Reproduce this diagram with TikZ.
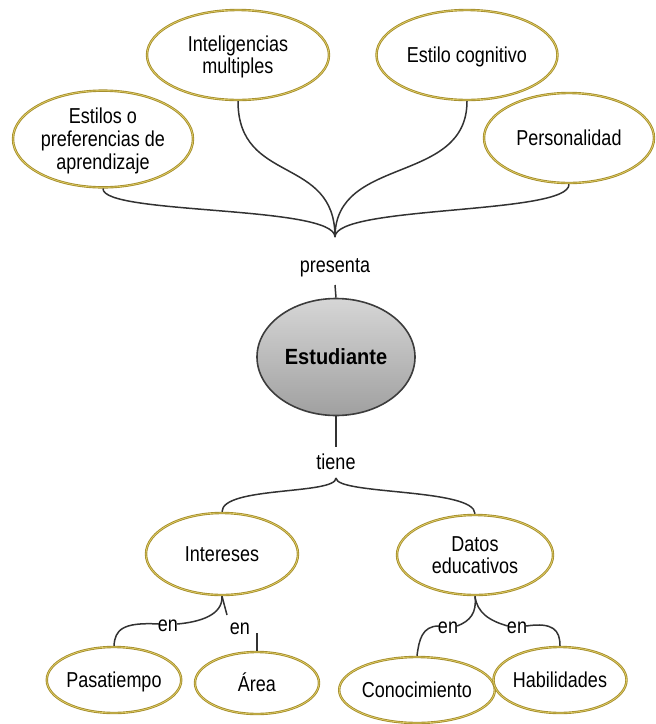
\documentclass[tikz,border=0pt]{standalone}
\usepackage{fontspec}
\setmainfont{Liberation Sans}
\usetikzlibrary{shapes.geometric}
\definecolor{ringgold}{RGB}{165,142,45}
\definecolor{ringlight}{RGB}{232,214,110}
\definecolor{linkgray}{RGB}{50,50,50}
\definecolor{estedge}{RGB}{60,60,60}
\definecolor{esttop}{RGB}{214,214,214}
\definecolor{estbot}{RGB}{160,160,160}
\newcommand{\tall}[1]{\raisebox{-3pt}[\height][\depth]{\scalebox{1}[1.2]{\begin{tabular}{@{}c@{}}#1\end{tabular}}}}
\tikzset{
  concept/.style={ellipse, draw=ringgold, line width=2.4pt, fill=white, align=center, inner sep=0pt,
    font=\fontsize{18}{19}\selectfont,
    postaction={draw=ringlight, line width=0.6pt}},
  centre/.style={ellipse, draw=estedge, line width=1.6pt, top color=esttop, bottom color=estbot,
    inner sep=0pt, font=\fontsize{20}{24}\selectfont\bfseries},
  linklabel/.style={inner sep=1pt, font=\fontsize{18}{19}\selectfont},
  link/.style={draw=linkgray, line width=1.5pt},
}
\begin{document}
\begin{tikzpicture}[x=1pt,y=-1pt]
\useasboundingbox (0,0) rectangle (656,724);
% top concepts
\node[concept, minimum width=180pt, minimum height=92pt] (estilos) at (103,139) {\tall{Estilos o\\preferencias de\\aprendizaje}};
\node[concept, minimum width=182pt, minimum height=90pt] (intel) at (238,55) {\tall{Inteligencias\\multiples}};
\node[concept, minimum width=181pt, minimum height=90pt] (cog) at (467,55) {\tall{Estilo cognitivo}};
\node[concept, minimum width=170pt, minimum height=90pt] (pers) at (569,138) {\tall{Personalidad}};
% centre
\node[centre, minimum width=158pt, minimum height=117pt] (estud) at (336,357) {\scalebox{1}[1.1]{Estudiante}};
% labels
\node[linklabel] (presenta) at (335,265) {\tall{presenta}};
\node[linklabel] (tiene) at (336,462) {\tall{tiene}};
% second level
\node[concept, minimum width=152pt, minimum height=82pt] (inter) at (222,554) {\tall{Intereses}};
\node[concept, minimum width=156pt, minimum height=80pt] (datos) at (475,555) {\tall{Datos\\educativos}};
% leaves
\node[concept, minimum width=124pt, minimum height=66pt] (pasa) at (114,680) {\tall{Pasatiempo}};
\node[concept, minimum width=124pt, minimum height=62pt] (area) at (257,683) {\tall{Área}};
\node[concept, minimum width=128pt, minimum height=66pt] (cono) at (417,690) {\tall{Conocimiento}};
\node[concept, minimum width=126pt, minimum height=66pt] (habi) at (560,680) {\tall{Habilidades}};
% link labels en
\node[linklabel] (en1) at (168,624) {\tall{en}};
\node[linklabel] (en2) at (240,627) {\tall{en}};
\node[linklabel] (en3) at (448,626) {\tall{en}};
\node[linklabel] (en4) at (517,626) {\tall{en}};
% junction coordinates
\coordinate (jt) at (335,237);
\coordinate (ps) at (335,285);
\coordinate (tt) at (336,447);
\coordinate (jb) at (336,478);
\coordinate (ia) at (227,615);
\coordinate (ab) at (257,633);
% top connectors
\path[link] (estilos.south) .. controls (102,215) and (335,205) .. (jt);
\path[link] (intel.south) .. controls (238,185) and (335,155) .. (jt);
\path[link] (cog.south) .. controls (467,185) and (335,155) .. (jt);
\path[link] (pers.south) .. controls (570,215) and (335,205) .. (jt);
\path[link] (ps) -- (estud.north);
% estudiante to tiene
\path[link] (estud.south) -- (tt);
\path[link] (jb) .. controls (336,495) and (222,486) .. (inter.north);
\path[link] (jb) .. controls (336,495) and (475,488) .. (datos.north);
% intereses subtree
\path[link] (inter.south) .. controls (223,615) and (200,622) .. ([xshift=-2pt]en1.east);
\path[link] ([xshift=2pt]en1.west) .. controls (122,622) and (115,630) .. (pasa.north);
\path[link] (inter.south) .. controls (225,605) .. (ia);
\path[link] (ab) -- (area.north);
% datos subtree
\path[link] (datos.south) .. controls (477,613) and (470,621) .. ([xshift=-2pt]en3.east);
\path[link] ([xshift=2pt]en3.west) .. controls (422,626) and (419,640) .. (cono.north);
\path[link] (datos.south) .. controls (477,613) and (490,621) .. ([xshift=2pt]en4.west);
\path[link] ([xshift=-2pt]en4.east) .. controls (553,622) and (560,630) .. (habi.north);
\end{tikzpicture}
\end{document}
